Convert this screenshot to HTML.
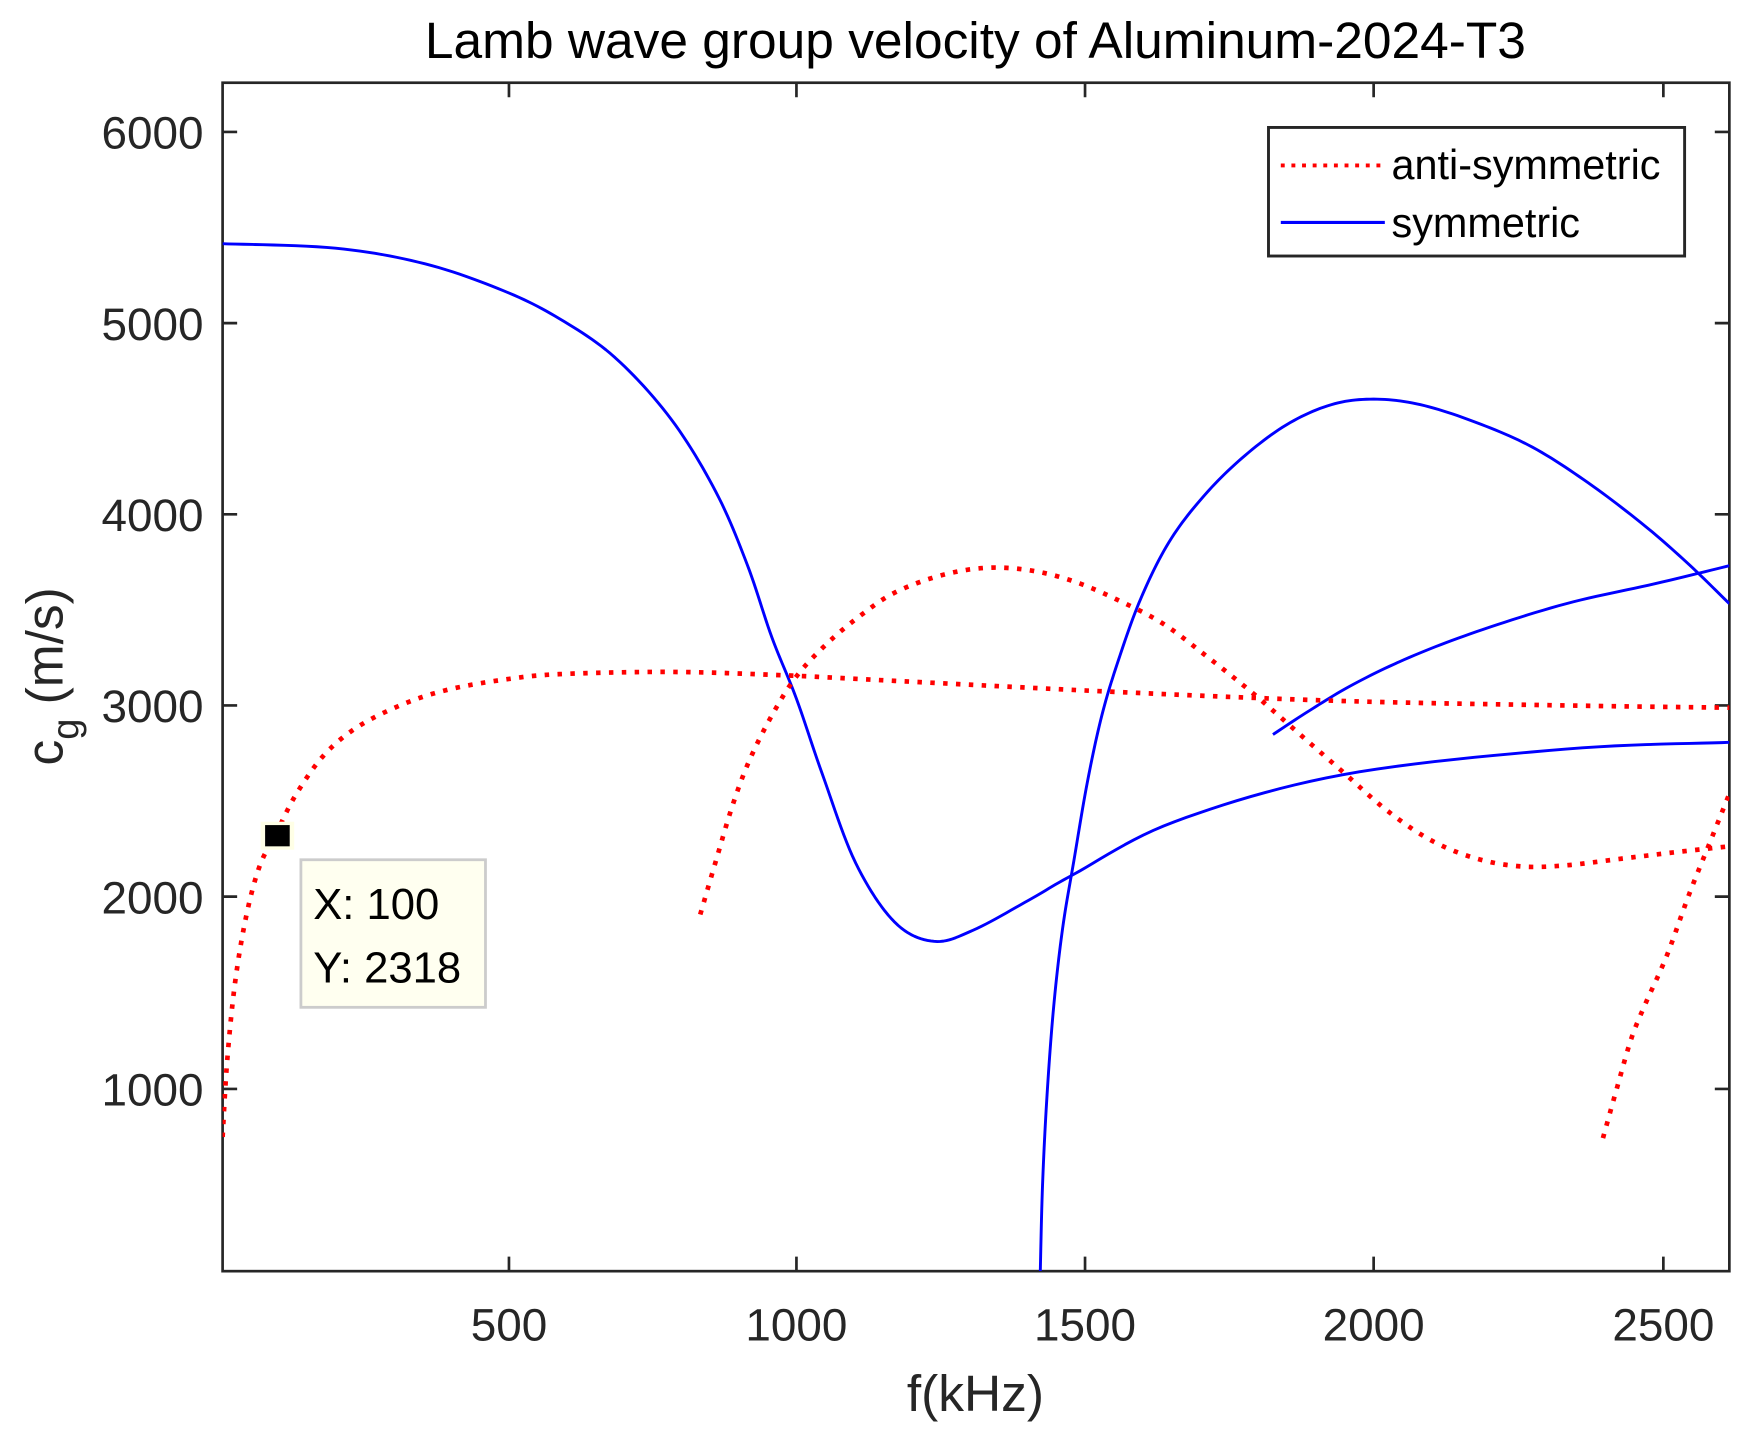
<!DOCTYPE html>
<html><head><meta charset="utf-8"><style>
html,body{margin:0;padding:0;background:#fff;}
svg{display:block;}
text{font-family:"Liberation Sans",Arial,sans-serif;}
</style></head><body>
<svg width="1746" height="1431" viewBox="0 0 1746 1431" xmlns="http://www.w3.org/2000/svg">
<rect width="1746" height="1431" fill="#fff"/>
<g transform="scale(1.1186,1.118)">
<text x="872" y="52" font-size="46" text-anchor="middle" fill="#000">Lamb wave group velocity of Aluminum-2024-T3</text>
<g fill="none" stroke="#262626" stroke-width="2.4">
<rect x="199" y="74" width="1347" height="1063"/>
<path d="M455,1137v-13M712,1137v-13M970,1137v-13M1228,1137v-13M1487,1137v-13
M455,74v13M712,74v13M970,74v13M1228,74v13M1487,74v13
M199,118h13M199,289h13M199,460h13M199,631h13M199,802h13M199,974h13
M1546,118h-13M1546,289h-13M1546,460h-13M1546,631h-13M1546,802h-13M1546,974h-13"/>
</g>
<g font-size="41" fill="#262626" text-anchor="middle">
<text x="455" y="1199">500</text><text x="712" y="1199">1000</text><text x="970" y="1199">1500</text><text x="1228" y="1199">2000</text><text x="1487" y="1199">2500</text>
</g>
<g font-size="41" fill="#262626" text-anchor="end">
<text x="182" y="133">6000</text><text x="182" y="304">5000</text><text x="182" y="475">4000</text><text x="182" y="646">3000</text><text x="182" y="817">2000</text><text x="182" y="989">1000</text>
</g>
<text x="872" y="1262" font-size="46" text-anchor="middle" fill="#262626">f(kHz)</text>
<text transform="translate(56,605) rotate(-90)" font-size="46" text-anchor="middle" fill="#262626">c<tspan dy="14" font-size="34">g</tspan><tspan dy="-14"> (m/s)</tspan></text>
<defs><clipPath id="c"><rect x="199" y="74" width="1347" height="1063"/></clipPath></defs>
<g clip-path="url(#c)" fill="none" stroke-linejoin="round">
<g stroke="#0000ff" stroke-width="2.6">
<polyline class="sm" points="199,218 300,222 380,236 450,260 500,285 550,320 600,375 640,440 668,505 690,570 712,625 735,692 765,772 800,825 835,842 870,832 920,805 960,782 1050,735 1200,693 1400,670 1546,664"/>
<polyline class="sm" points="930,1137 932,1060 936,980 942,900 950,830 960,770 972,700 985,640 1000,590 1020,535 1045,485 1075,445 1110,410 1150,380 1190,362 1228,357 1270,362 1320,378 1370,400 1420,432 1470,470 1510,505 1546,540"/>
<polyline class="sm" points="1138,657 1170,636 1210,612 1260,588 1320,565 1400,540 1480,522 1546,506"/>
</g>
<g stroke="#ff0000" stroke-width="4.2" stroke-dasharray="4 7.5">
<polyline class="sm" points="199,1017 203,950 210,880 220,820 232,775 247,745 265,710 290,675 320,650 360,630 400,617 450,608 500,603 600,601 700,604 800,609 1000,619 1200,627 1400,631 1546,633"/>
<polyline class="sm" points="626,818 640,770 655,720 670,680 690,640 712,605 740,575 770,550 800,530 840,515 880,508 920,510 960,520 1000,537 1040,558 1080,588 1120,620 1160,655 1200,690 1240,725 1280,752 1320,768 1360,775 1400,774 1450,768 1500,762 1546,757"/>
<polyline class="sm" points="1433,1018 1445,975 1458,930 1470,900 1490,855 1510,800 1530,750 1546,710"/>
</g>
</g>
<rect x="233" y="735" width="30" height="25" fill="#ffffe6"/>
<rect x="237" y="738" width="22" height="19" fill="#000"/>
<rect x="269" y="769" width="165" height="132" fill="#fffff0" stroke="#cccccc" stroke-width="2.5"/>
<text x="280" y="822" font-size="39" fill="#000">X: 100</text>
<text x="280" y="879" font-size="39" fill="#000">Y: 2318</text>
<rect x="1134" y="114" width="372" height="115" fill="#fff" stroke="#262626" stroke-width="2.6"/>
<path d="M1145,148H1238" stroke="#ff0000" stroke-width="3.5" stroke-dasharray="3.5 6"/>
<path d="M1145,199H1238" stroke="#0000ff" stroke-width="2.8"/>
<text x="1244" y="160" font-size="37" fill="#000">anti-symmetric</text>
<text x="1244" y="212" font-size="37" fill="#000">symmetric</text>
</g>
</svg>
<script>
document.querySelectorAll('polyline.sm').forEach(function(pl){
  var p=pl.getAttribute('points').trim().split(/\s+/).map(function(s){return s.split(',').map(Number);});
  var out=[];
  for(var i=0;i<p.length-1;i++){
    var p0=p[i-1]||p[i],p1=p[i],p2=p[i+1],p3=p[i+2]||p[i+1];
    for(var k=0;k<12;k++){
      var t=k/12,t2=t*t,t3=t2*t;
      var f=function(a,b,c,d){return 0.5*((2*b)+(-a+c)*t+(2*a-5*b+4*c-d)*t2+(-a+3*b-3*c+d)*t3);};
      out.push(f(p0[0],p1[0],p2[0],p3[0]).toFixed(2)+','+f(p0[1],p1[1],p2[1],p3[1]).toFixed(2));
    }
  }
  out.push(p[p.length-1].join(','));
  pl.setAttribute('points',out.join(' '));
});
</script>
</body></html>
